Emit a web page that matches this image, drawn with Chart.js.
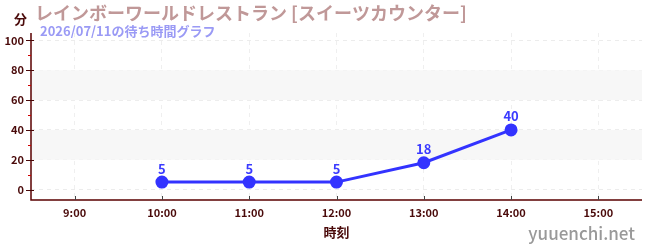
<!DOCTYPE html>
<html>
<head>
<meta charset="utf-8">
<script src="https://cdn.jsdelivr.net/npm/chart.js@4/dist/chart.umd.min.js"></script>
<style>
  html, body { margin: 0; padding: 0; background: #fff; }
  #wrap { width: 650px; height: 250px; position: relative; }
</style>
</head>
<body>
<div id="wrap"><canvas id="chart" width="650" height="250"></canvas></div>
<script>
// chart data
const times = ['9:00', '10:00', '11:00', '12:00', '13:00', '14:00', '15:00'];
const waitMinutes = [null, 5, 5, 5, 18, 40, null];
const yTickValues = [0, 20, 40, 60, 80, 100];
const bandRanges = [[20, 40], [60, 80]];

const titleText = 'レインボーワールドレストラン [スイーツカウンター]';
const subtitleText = '2026/07/11の待ち時間グラフ';
const font = '"Noto Sans CJK JP", "Noto Sans", sans-serif';
const darkRed = '#4a0a0a';

// bands, minor ticks and texts
const decoPlugin = {
  id: 'deco',
  beforeDatasetsDraw(chart) {
    const { ctx, chartArea, scales } = chart;
    const y = scales.y;
    ctx.save();
    ctx.fillStyle = '#f7f7f7';
    bandRanges.forEach(([a, b]) => {
      const top = y.getPixelForValue(b), bot = y.getPixelForValue(a);
      ctx.fillRect(chartArea.left, top, chartArea.right - chartArea.left, bot - top);
    });
    ctx.restore();
  },
  afterDraw(chart) {
    const { ctx, chartArea, scales } = chart;
    const y = scales.y, x = scales.x;
    ctx.save();
    // axis lines (solid)
    ctx.strokeStyle = '#5a0000';
    ctx.lineWidth = 1.5;
    ctx.beginPath();
    ctx.moveTo(chartArea.left, chartArea.top);
    ctx.lineTo(chartArea.left, chartArea.bottom);
    ctx.lineTo(chartArea.right, chartArea.bottom);
    ctx.stroke();
    // minor ticks on y
    ctx.strokeStyle = '#d00000';
    ctx.lineWidth = 1;
    for (let v = 10; v < 100; v += 20) {
      const py = Math.round(y.getPixelForValue(v)) + 0.5;
      ctx.beginPath();
      ctx.moveTo(chartArea.left - 3, py);
      ctx.lineTo(chartArea.left, py);
      ctx.stroke();
    }
    // major ticks on y
    ctx.strokeStyle = darkRed;
    yTickValues.forEach(v => {
      const py = Math.round(y.getPixelForValue(v)) + 0.5;
      ctx.beginPath();
      ctx.moveTo(chartArea.left - 5, py);
      ctx.lineTo(chartArea.left + 3, py);
      ctx.stroke();
    });
    // x ticks
    ctx.strokeStyle = '#444';
    times.forEach((t, i) => {
      const px = Math.round(x.getPixelForValue(i)) + 0.5;
      ctx.beginPath();
      ctx.moveTo(px, chartArea.bottom - 4);
      ctx.lineTo(px, chartArea.bottom);
      ctx.stroke();
    });

    // point labels
    const meta = chart.getDatasetMeta(0);
    ctx.fillStyle = '#3a3aff';
    ctx.font = 'bold 13px ' + font;
    ctx.textAlign = 'center';
    ctx.textBaseline = 'bottom';
    meta.data.forEach((pt, i) => {
      if (waitMinutes[i] == null) return;
      ctx.fillText(String(waitMinutes[i]), pt.x, pt.y - 7);
    });

    // titles
    ctx.textAlign = 'left';
    ctx.textBaseline = 'alphabetic';
    ctx.fillStyle = darkRed;
    ctx.font = 'bold 13px ' + font;
    ctx.fillText('分', 14, 24);
    ctx.fillStyle = '#c09898';
    ctx.font = 'bold 18px ' + font;
    ctx.fillText(titleText, 35, 20);
    ctx.fillStyle = '#9a9af5';
    ctx.font = 'bold 13px ' + font;
    ctx.fillText(subtitleText, 40, 36);
    ctx.fillStyle = '#999';
    ctx.font = '500 17px ' + font;
    ctx.textAlign = 'right';
    ctx.fillText('yuuenchi.net', 635, 240);
    ctx.restore();
  }
};

new Chart(document.getElementById('chart'), {
  type: 'line',
  data: {
    labels: times,
    datasets: [{
      data: waitMinutes,
      borderColor: '#3333ff',
      backgroundColor: '#3333ff',
      borderWidth: 3,
      pointRadius: 5,
      pointHoverRadius: 5,
      tension: 0,
      spanGaps: false
    }]
  },
  options: {
    responsive: false,
    animation: false,
    layout: { padding: { top: 33, right: 8, left: 0, bottom: 0 } },
    plugins: { legend: { display: false }, tooltip: { enabled: false } },
    scales: {
      x: {
        offset: true,
        grid: { color: '#efefef', drawTicks: false, tickLength: 0, offset: false },
        border: { display: false, dash: [4, 4] },
        ticks: { color: darkRed, font: { family: font, size: 11, weight: 'bold' }, padding: 6 },
        title: {
          display: true,
          text: '時刻',
          color: darkRed,
          font: { family: font, size: 13, weight: 'bold' },
          padding: { top: 4, bottom: 10 }
        },
        afterFit(scale) { scale.height = 50; }
      },
      y: {
        min: -7,
        max: 105,
        afterBuildTicks(scale) { scale.ticks = yTickValues.map(v => ({ value: v })); },
        grid: { color: '#ececec', drawTicks: false, tickLength: 0 },
        border: { display: false, dash: [4, 4] },
        ticks: { color: darkRed, font: { family: font, size: 11, weight: 'bold' }, padding: 7 },
        afterFit(scale) { scale.width = 31; }
      }
    }
  },
  plugins: [decoPlugin]
});
</script>
</body>
</html>
